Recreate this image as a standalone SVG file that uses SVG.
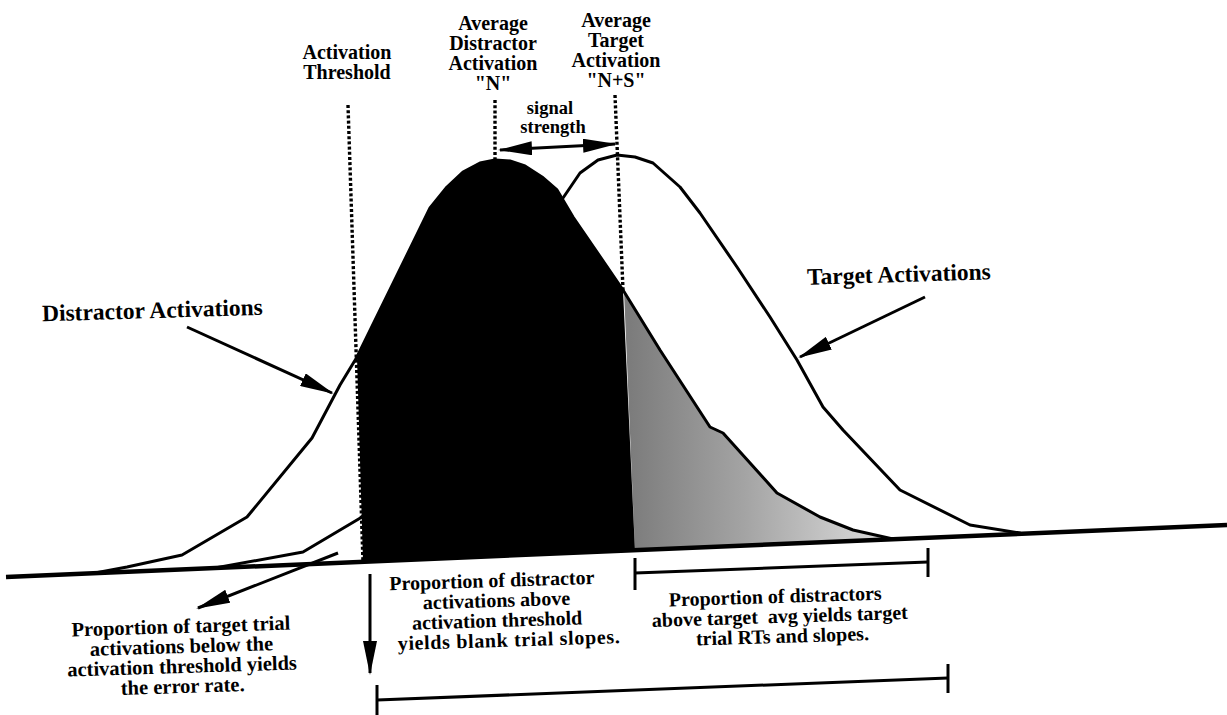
<svg xmlns="http://www.w3.org/2000/svg" width="1227" height="715" viewBox="0 0 1227 715">
<style>
.t { font-family: "Liberation Serif", "Times New Roman", serif; font-weight: bold; font-size: 20px; fill: #000; text-anchor: middle; }
.big { font-size: 23.5px; text-anchor: start; }
.sm { font-size: 18.5px; }
.bl { font-size: 20.5px; }
.curve { fill: none; stroke: #000; stroke-width: 3; stroke-linejoin: round; stroke-linecap: round; }
.dot { fill: none; stroke: #000; stroke-width: 3.4; stroke-dasharray: 3 2.2; }
.ln { fill: none; stroke: #000; stroke-width: 3; stroke-linecap: butt; }
.arr { fill: none; stroke: #000; stroke-width: 3; marker-end: url(#ah); }
</style>
<defs>
<marker id="ah" markerUnits="userSpaceOnUse" markerWidth="34" markerHeight="14" viewBox="0 0 34 14" refX="32" refY="7" orient="auto-start-reverse">
<path d="M0,0 L34,7 L0,14 z" fill="#000"/>
</marker>
<linearGradient id="gr" gradientUnits="userSpaceOnUse" x1="630" y1="0" x2="860" y2="0">
<stop offset="0" stop-color="#7c7c7c"/>
<stop offset="0.5" stop-color="#a4a4a4"/>
<stop offset="1" stop-color="#d2d2d2"/>
</linearGradient>
</defs>
<rect width="1227" height="715" fill="#fff"/>

<g id="regions">
<polygon id="gray-region" fill="url(#gr)" points="624,291 635,551 893,539 853,530 820,517 777,493 723,433 710,427 660,350 623,290"/>
<polygon id="black-region" fill="#000" points="357,357 363,562 635,551 623,290 573,217 557,190 542,177 525,166 510,161 495,160 480,163 463,172 447,187 430,208"/>
</g>

<g id="target-curve">
<polyline class="curve" points="215,568 303,552 362,517 563,198 580,173 598,160 617,155 635,157 653,163 680,187 700,213 737,267 770,317 797,360 823,407 843,430 900,490 970,525 1020,533"/>
</g>

<g id="distractor-curve">
<polyline class="curve" points="95,573 127,567 182,555 247,517 312,438 340,385 357,357 430,208 447,187 463,172 480,163 495,160 510,161 525,166 542,177 557,190 573,217 623,290 660,350 710,427 723,433 777,493 820,517 853,530 893,539"/>
</g>

<g id="axis">
<line x1="6" y1="577" x2="1227" y2="525" stroke="#000" stroke-width="4.5"/>
</g>

<g id="connectors">
<line class="dot" x1="348" y1="105" x2="363" y2="562"/>
<line class="dot" x1="495" y1="100" x2="495" y2="160"/>
<line class="dot" x1="615" y1="95" x2="623" y2="290"/>
<line class="arr" x1="500" y1="150" x2="615" y2="144" marker-start="url(#ah)"/>
<line class="arr" x1="187" y1="327" x2="332" y2="393"/>
<line class="arr" x1="925" y1="297" x2="800" y2="357"/>
<line class="arr" x1="338" y1="553" x2="198" y2="608"/>
<line class="arr" x1="370" y1="574" x2="370" y2="673"/>
<g id="bracket-upper">
<line class="ln" x1="635" y1="558" x2="635" y2="590"/>
<line class="ln" x1="635" y1="573" x2="928" y2="562"/>
<line class="ln" x1="928" y1="548" x2="928" y2="577"/>
</g>
<g id="bracket-lower">
<line class="ln" x1="377" y1="685" x2="377" y2="715"/>
<line class="ln" x1="377" y1="700" x2="948" y2="678"/>
<line class="ln" x1="948" y1="664" x2="948" y2="693"/>
</g>
</g>

<g id="label-threshold">
<text class="t" x="347" y="59">Activation</text>
<text class="t" x="347" y="79">Threshold</text>
</g>
<g id="label-avg-distractor">
<text class="t" x="493" y="30">Average</text>
<text class="t" x="493" y="50">Distractor</text>
<text class="t" x="493" y="70">Activation</text>
<text class="t" x="493" y="90">"N"</text>
</g>
<g id="label-avg-target">
<text class="t" x="616" y="27">Average</text>
<text class="t" x="616" y="47">Target</text>
<text class="t" x="616" y="67">Activation</text>
<text class="t" x="616" y="87">"N+S"</text>
</g>
<g id="label-signal">
<text class="t sm" x="550" y="114">signal</text>
<text class="t sm" x="553" y="133">strength</text>
</g>
<g id="label-distractor-activations" transform="rotate(-1.7 155 312)">
<text class="t big" x="42" y="318">Distractor Activations</text>
</g>
<g id="label-target-activations" transform="rotate(-1.7 900 276)">
<text class="t big" x="807" y="282">Target Activations</text>
</g>
<g id="label-error-rate" transform="rotate(-1.8 182 663)">
<text class="t bl" x="182" y="633">Proportion of target trial</text>
<text class="t bl" x="182" y="653">activations below the</text>
<text class="t bl" x="182" y="673">activation threshold yields</text>
<text class="t bl" x="182" y="693">the error rate.</text>
</g>
<g id="label-blank-slopes" transform="rotate(-1.8 497 617)">
<text class="t" x="493" y="587">Proportion of distractor</text>
<text class="t" x="497" y="607">activations above</text>
<text class="t" x="497" y="627">activation threshold</text>
<text class="t" x="508" y="647" textLength="222" lengthAdjust="spacing">yields blank trial slopes.</text>
</g>
<g id="label-target-rts" transform="rotate(-1.8 778 622)">
<text class="t" x="776" y="603">Proportion of distractors</text>
<text class="t" x="780" y="623">above target &#160;avg yields target</text>
<text class="t" x="782" y="643">trial RTs and slopes.</text>
</g>
</svg>
